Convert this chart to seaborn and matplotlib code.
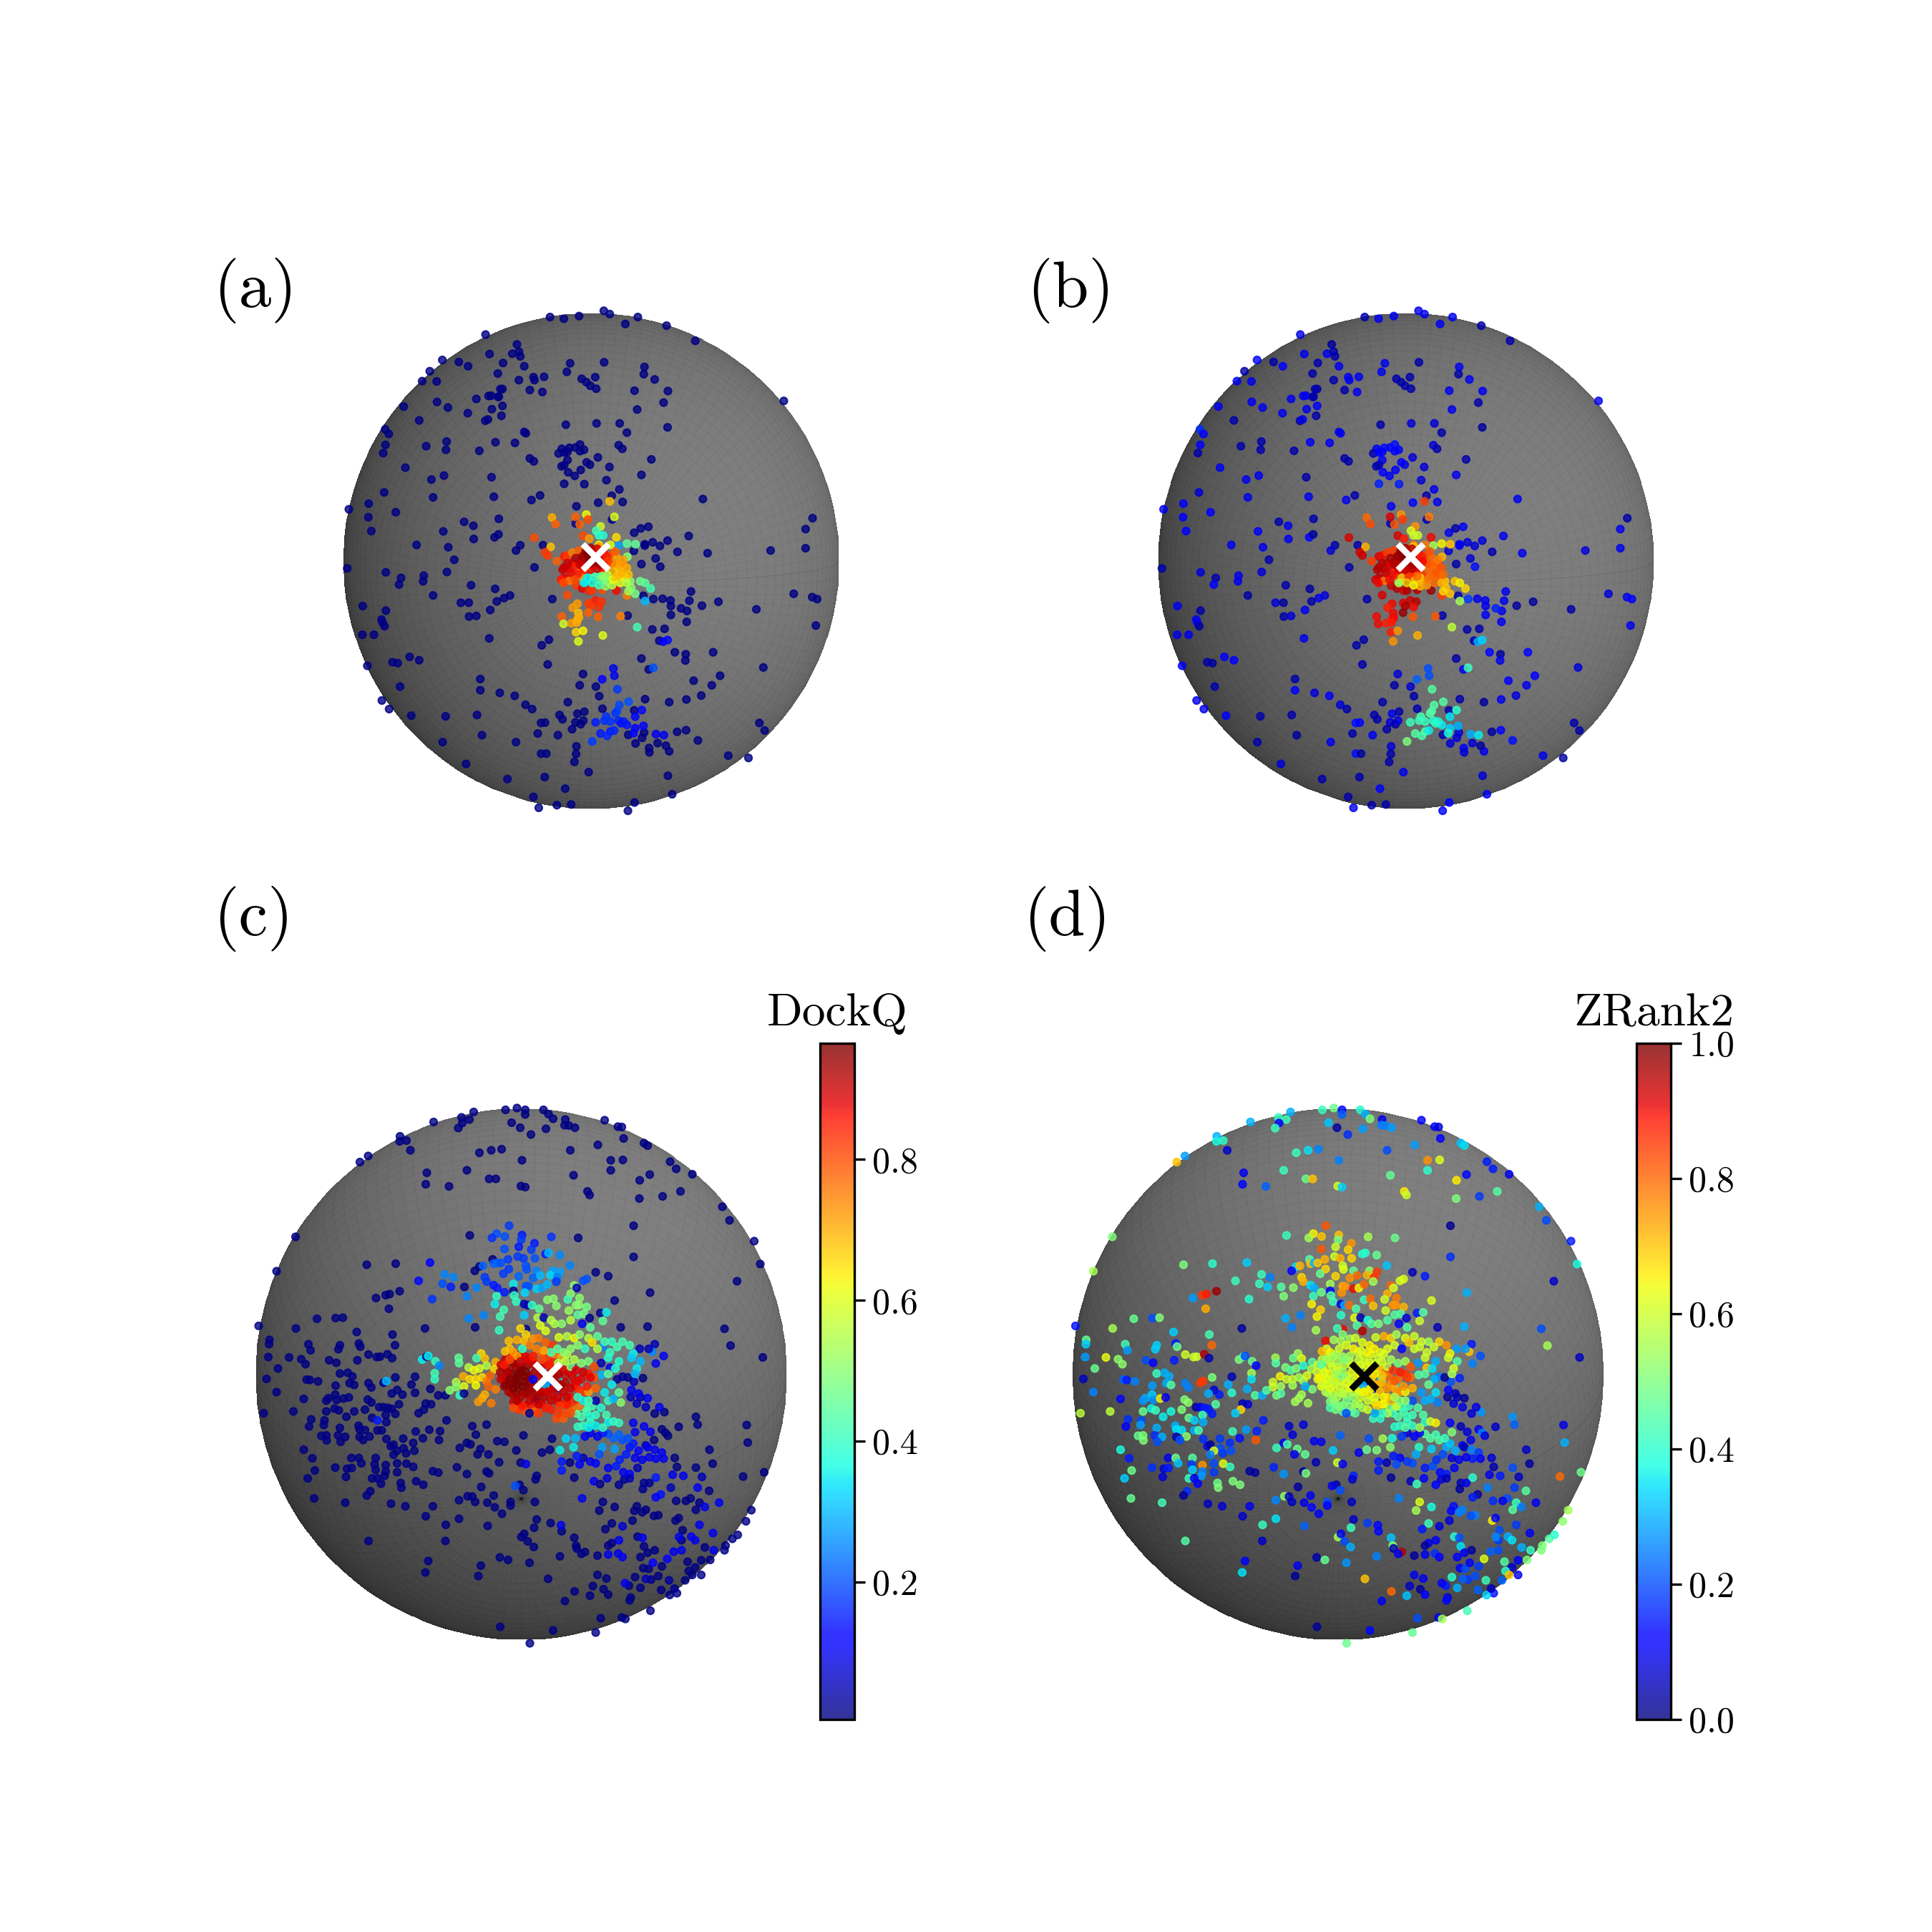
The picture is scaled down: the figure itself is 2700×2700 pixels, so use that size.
import numpy as np
import pandas as pd
import matplotlib
matplotlib.use("Agg")
import matplotlib.pyplot as plt
from matplotlib.cm import ScalarMappable
from matplotlib.colors import Normalize
import seaborn as sns

sns.set_style("white")
plt.rcParams["font.family"] = ["cmr10"]
plt.rcParams["axes.formatter.use_mathtext"] = True
plt.rcParams["text.color"] = "black"
plt.rcParams["axes.labelcolor"] = "black"
plt.rcParams["axes.edgecolor"] = "black"
plt.rcParams["xtick.color"] = "black"
plt.rcParams["ytick.color"] = "black"

# ------------------------------------------
# DATA: positions, in units of a 1560 wide crop
# (x, y, b value) for panels a and b, panel a is navy here
# ------------------------------------------
a_sparse_value = 0.01

ab_sparse = [
    (647,50,.04),(689,55,.1),(735,47,.1),(810,31,.1),(828,41,.1),(913,50,.1),(875,71,.1),(1000,76,.04),(1087,122,.04),
    (452,103,.09),(1355,304,.1),(321,180,.13),(283,214,.04),(260,244,.1),(304,245,.1),(371,186,.04),(399,199,.12),
    (464,162,.1),(505,189,.04),(547,133,.03),(533,161,.1),(553,155,.04),(557,169,.04),(569,199,.1),(489,221,.04),
    (708,190,.1),(811,187,.04),(698,216,.1),(933,201,.1),(931,223,.04),(964,239,.1),(1004,274,.1),(991,309,.04),
    (903,273,.1),(911,330,.1),(553,241,.04),(597,232,.1),(600,241,.1),(629,231,.1),(743,237,.04),(757,247,.04),
    (769,258,.04),(787,267,.04),(784,232,.04),(586,271,.04),(624,277,.1),(497,268,.04),(503,268,.04),(461,289,.1),
    (469,288,.1),(490,292,.04),(492,291,.04),(424,298,.1),(305,307,.1),(204,321,.1),(338,324,.1),(503,319,.12),
    (471,329,.1),(398,341,.1),(500,349,.04),(451,364,.04),(459,360,.1),(251,363,.04),(148,390,.17),(159,404,.12),
    (149,437,.12),(142,462,.04),(272,441,.04),(334,427,.04),(332,452,.04),(433,455,.04),(482,429,.1),(541,431,.1),
    (569,398,.1),(574,402,.1),(695,376,.04),(788,372,.08),(858,372,.08),(880,400,.04),(1003,384,.03),
    (683,449,.1),(673,463,.04),(690,460,.12),(706,446,.14),(724,445,.12),(738,436,.14),(738,456,.12),(750,452,.12),
    (700,458,.12),(700,483,.12),(690,498,.04),(682,502,.04),(702,520,.12),(722,531,.1),(740,513,.12),(758,490,.12),
    (768,497,.1),(690,555,.16),(751,556,.15),(586,478,.04),(598,487,.04),(792,475,.08),(827,504,.08),(855,438,.08),
    (866,449,.04),(954,481,.04),(924,528,.1),(818,544,.08),
    (209,506,.1),(288,542,.1),(326,530,.1),(470,535,.04),(145,581,.08),(293,596,.1),(477,594,.1),(591,604,.1),
    (617,590,.04),(857,572,.1),(834,591,.04),(793,612,.12),(867,610,.1),(727,623,.1),(1110,601,.1),(98,615,.12),
    (97,656,.12),(180,641,.12),(38,632,.1),(106,698,.12),(387,670,.04),(415,682,.1),(492,661,.04),(324,699,.12),
    (416,722,.1),(479,717,.12),(491,708,.03),(243,740,.1),(339,747,.1),(357,785,.04),(557,741,.04),(544,757,.08),
    (626,741,.04),(33,811,.04),(150,823,.08),(335,822,.08),(600,808,.04),(196,840,.04),(265,833,.1),(263,850,.1),
    (190,860,.12),(408,862,.04),(293,893,.04),(481,873,.03),(377,915,.08),(401,915,.03),(526,893,.08),(508,901,.1),
    (486,911,.04),(466,937,.1),(80,925,.1),(150,939,.04),(137,966,.1),(140,975,.1),(146,986,.03),(402,957,.04),
    (424,955,.08),(654,904,.04),(79,1012,.1),(114,1012,.1),(463,1023,.1),(222,1079,.12),(170,1095,.04),(186,1098,.03),
    (251,1089,.12),(94,1106,.12),(193,1169,.04),(138,1211,.09),(160,1237,.09),(436,1146,.04),(436,1180,.12),
    (495,1188,.08),(540,1197,.12),(573,1224,.08),(593,1237,.04),(227,1257,.12),(331,1259,.04),(426,1255,.04),
    (622,1044,.04),(644,1027,.04),(640,1102,.04),(747,1131,.08),(737,1165,.04),(786,1169,.08),(796,1198,.04),
    (701,1216,.04),(806,1236,.04),(676,1255,.04),(685,1268,.04),(730,1251,.1),(751,1245,.04),(724,1277,.08),
    (740,1283,.04),(748,1272,.08),(620,1279,.14),(632,1278,.12),(714,1298,.04),(610,1311,.04),(671,1316,.1),
    (322,1337,.04),(441,1316,.03),(544,1337,.1),(727,1350,.08),(726,1373,.04),(620,1372,.14),(636,1372,.03),
    (721,1397,.04),(393,1403,.08),(764,1428,.1),(631,1443,.04),(518,1449,.04),(693,1478,.12),(597,1503,.04),
    (613,1536,.1),(668,1528,.04),(711,1526,.04),(883,1545,.12),(903,1520,.12),(1017,1495,.1),(1004,1439,.08),
    (1187,1378,.1),(1248,1385,.03),(1281,1279,.04),(1297,1302,.04),(1095,1332,.14),(1059,1301,.12),(1032,1306,.03),
    (1008,1365,.1),(998,1348,.03),(973,1340,.08),(947,1355,.12),(948,1368,.08),(906,1341,.08),(926,1324,.08),
    (932,1308,.08),(884,1315,.04),(1060,1208,.1),(1008,1216,.03),(1105,1196,.08),(1137,1165,.1),(1082,1151,.12),
    (1162,1136,.12),(1293,1111,.08),(1141,1065,.13),(1058,1071,.03),(1057,1090,.1),(1025,1065,.13),(924,1084,.04),
    (946,1117,.1),(935,1207,.04),(902,1241,.04),(1061,973,.1),(994,994,.04),(957,996,.04),(978,1030,.04),(1013,952,.12),
    (1062,940,.1),(1044,932,.16),(1107,924,.03),(1157,912,.03),(1069,909,.1),(1074,881,.1),(1013,925,.1),(1012,908,.1),
    (988,903,.1),(960,904,.18),(930,894,.04),(882,954,.04),(1272,935,.04),(1385,888,.08),(1441,898,.1),(1456,904,.12),
    (1452,984,.1),(1315,757,.08),(1421,750,.1),(1421,692,.1),(1442,659,.04),(1124,765,.1),(1067,713,.1),(1033,761,.04),
    (1003,727,.08),(980,743,.08),(958,732,.08),(934,738,.1),(934,742,.1),(945,685,.12),(922,690,.04),(902,703,.1),
    (901,758,.08),(967,781,.08),(981,806,.14),(924,798,.04),
]

# (x, y, a value, b value)
ab_cluster = [
    (835,663,.02,.05),(725,675,.02,.04),(842,655,.6,.78),(828,608,.68,.85),(653,657,.7,.8),(664,677,.78,.83),
    (724,655,.78,.92),(757,648,.62,.75),(762,663,.8,.85),(737,678,.78,.82),(800,684,.58,.75),(787,697,.42,.62),
    (795,711,.4,.6),(808,711,.38,.6),(848,717,.65,.9),(747,712,.8,.92),(766,721,.72,.88),(599,718,.8,.92),(649,746,.68,.72),
    (880,736,.45,.65),(906,738,.45,.7),(855,742,.28,.55),(881,776,.5,.72),(795,740,.62,.78),(830,740,.6,.78),
    (990,1033,.12,.3),(1003,1028,.13,.33),(960,1112,.2,.42),(839,1114,.1,.2),(842,1136,.1,.2),(805,1147,.11,.22),
    (851,1177,.18,.45),(885,1215,.2,.45),(857,1225,.19,.45),(850,1243,.19,.44),(845,1250,.18,.45),(817,1260,.17,.43),
    (812,1272,.17,.42),(830,1275,.17,.42),(785,1277,.15,.42),(855,1272,.16,.4),(870,1275,.15,.38),(880,1285,.14,.36),
    (862,1280,.14,.4),(905,1260,.13,.35),(925,1240,.13,.4),(830,1305,.15,.45),(841,1302,.16,.36),(800,1311,.15,.45),
    (820,1318,.16,.44),(775,1335,.18,.5),(905,1295,.12,.33),(930,1288,.12,.3),(900,1310,.11,.38),(968,1313,.1,.3),(992,1316,.1,.36),
    (700,892,.8,.92),(730,918,.72,.9),(716,930,.72,.88),(764,916,.82,.92),(785,908,.85,.93),(803,912,.83,.95),(795,928,.83,.9),
    (770,925,.82,.96),(763,945,.78,.98),(733,946,.68,.9),(683,957,.78,.9),(793,958,.78,.82),(861,956,.75,.82),(730,965,.7,.88),
    (735,960,.7,.9),(688,979,.58,.9),(712,977,.72,.88),(728,975,.7,.88),(911,989,.42,.58),(726,1004,.66,.88),(747,1000,.63,.75),
    (733,1032,.6,.75),(807,1014,.6,.72),
    (890,850,.5,.7),(893,870,.5,.7),(920,850,.47,.7),(935,855,.45,.65),(952,872,.42,.68),(905,888,.47,.7),(880,893,.75,.85),
    (885,880,.52,.68),(935,910,.3,.55),
    (690,775,.85,.92),(700,772,.82,.9),(715,763,.75,.85),(735,757,.78,.85),(640,772,.82,.93),(632,762,.82,.93),(668,789,.78,.85),
    (690,808,.9,.95),(685,815,.9,.95),(705,812,.9,.95),(715,795,.88,.93),(725,805,.85,.92),(700,795,.9,.95),
    (690,840,.88,.95),(680,845,.85,.92),(695,850,.85,.93),(707,848,.75,.78),(688,855,.8,.9),
    (727,863,.82,.93),(745,872,.88,.95),(765,878,.84,.92),(775,878,.82,.96),(806,876,.8,.95),(848,878,.87,.97),(755,850,.3,.55),
    (745,838,.7,.85),(760,840,.35,.7),(780,835,.4,.85),(800,845,.45,.7),(820,850,.45,.72),(815,865,.5,.72),(835,862,.55,.75),
    (860,855,.6,.8),(875,840,.62,.8),(870,800,.75,.85),(880,810,.7,.82),(860,830,.65,.8),(845,800,.68,.85),(855,815,.65,.8),
    (835,820,.7,.8),(820,830,.55,.85),(800,825,.5,.85),(775,820,.45,.85),(760,810,.6,.9),(740,820,.78,.85),(835,770,.8,.85),
    (850,780,.7,.8),(845,760,.78,.82),(740,790,.9,.97),(750,775,.93,.98),(765,785,.95,.99),(775,770,.96,.99),(790,790,.94,.97),
    (800,775,.92,.95),(815,790,.88,.9),(780,805,.92,.95),(760,800,.93,.96),(745,805,.9,.95),(805,810,.85,.9),(725,780,.92,.96),
    (760,760,.92,.96),(785,760,.9,.93),(810,765,.85,.9),(795,745,.72,.7),
]

ab_fill = [
    (730,830,.85,.9),(710,825,.87,.93),(722,845,.8,.9),(750,855,.35,.55),(775,855,.38,.7),(795,862,.42,.65),(815,840,.5,.7),
    (838,845,.62,.78),(850,835,.68,.8),(865,825,.7,.82),(885,830,.68,.8),(880,855,.55,.72),(855,800,.72,.8),(868,785,.72,.78),
    (835,795,.75,.82),(805,835,.5,.8),(785,825,.42,.85),(745,775,.93,.97),(755,760,.95,.98),(770,750,.93,.96),(790,752,.9,.95),
    (805,760,.88,.92),(818,775,.85,.88),(822,790,.82,.9),(810,805,.88,.92),(790,812,.9,.95),(770,815,.88,.93),(750,815,.85,.92),
    (738,800,.9,.95),(762,770,.97,.99),(780,780,.97,.99),(770,795,.96,.98),(795,795,.95,.97),
]

# (x, y, d value) for panels c and d, panel c is navy here
c_sparse_value = 0.01

cd_top = [
    (624,28,.3),(713,22,.42),(745,17,.48),(768,22,.13),(768,35,.22),(819,22,.4),(833,34,.3),(846,47,.5),(880,49,.1),(878,65,.25),
    (890,66,.25),(907,72,.28),(990,51,.12),(1027,69,.12),(1038,70,.08),(1043,102,.12),(512,56,.3),(590,43,.42),(612,49,.42),
    (592,59,.13),(581,73,.42),(730,58,.32),(754,72,.03),(826,75,.28),(784,91,.17),(418,96,.3),(417,110,.38),(436,108,.4),
    (447,135,.07),(329,151,.28),(306,168,.7),(126,377,.5),(73,473,.55),(640,142,.42),(673,135,.35),(702,132,.25),(759,163,.25),
    (605,191,.42),(493,198,.1),(490,230,.12),(555,236,.22),(667,215,.48),(686,215,.7),(756,235,.6),(768,238,.33),(894,135,.2),
    (971,120,.28),(1007,163,.75),(1041,162,.62),(1007,191,.4),(903,205,.47),(1100,115,.32),(1110,122,.35),(1173,167,.15),
    (1190,187,.15),(1235,202,.1),(1116,203,.13),(1088,219,.66),(1202,250,.45),(1152,264,.18),(1087,270,.5),(942,250,.66),
    (948,260,.6),(1319,293,.3),(1339,331,.2),(1071,346,.02),(1408,389,.15),(1425,453,.38),(1071,433,.17),(1360,501,.07),(916,380,.48),
]

cd_left = [
    (325,455,.5),(406,452,.4),(351,548,.28),(378,540,.85),(389,537,.88),(417,529,.97),(387,578,.73),(186,606,.47),(238,604,.2),
    (258,603,.5),(127,633,.55),(23,626,.14),(297,643,.33),(397,650,.43),(488,633,.03),(53,665,.47),(52,677,.33),(162,677,.43),
    (168,694,.28),(250,680,.33),(246,691,.33),(303,675,.15),(307,684,.48),(404,680,.8),(330,706,.6),(353,713,.6),(362,712,.6),
    (383,705,.95),(396,716,.05),(50,713,.28),(108,714,.63),(142,719,.52),(154,733,.52),(220,722,.2),(240,729,.12),(299,722,.15),
    (77,745,.48),(45,774,.06),(157,776,.22),(166,777,.15),(189,781,.25),(250,759,.42),(272,757,.3),(285,767,.3),(277,786,.3),
    (290,791,.45),(330,786,.25),(338,798,.25),(238,793,.28),(73,811,.25),(149,830,.13),(237,818,.33),(218,828,.3),(212,835,.27),
    (241,833,.27),(260,829,.65),(275,826,.1),(328,832,.5),(338,840,.52),(360,853,.03),(372,853,.1),(385,855,.15),(395,858,.15),
    (37,870,.58),(120,865,.58),(212,865,.48),(235,857,.37),(247,862,.42),(268,880,.36),(290,865,.38),(320,860,.5),(340,883,.48),
    (378,875,.42),(170,887,.17),(207,890,.2),(205,903,.28),(164,907,.12),(380,895,.3),(250,911,.3),(302,905,.3),(305,915,.35),
    (320,917,.35),(355,918,.3),(367,918,.43),(198,933,.47),(212,932,.5),(213,946,.5),(245,932,.17),(265,936,.3),(252,950,.2),
    (305,936,.05),(333,935,.52),(315,945,.2),(380,942,.17),(427,941,.18),(392,962,.1),(400,958,.03),(428,968,.2),(455,953,.17),
    (482,940,.14),(149,972,.38),(173,996,.15),(282,995,.1),(303,995,.48),(350,995,.45),(410,975,.6),(458,975,.2),(400,986,.25),
    (435,982,.18),(310,1010,.32),(347,1013,.18),(378,1015,.75),(410,1010,.2),(436,1011,.62),(455,1020,.42),(237,1022,.17),
    (180,1030,.48),(270,1025,.08),(283,1023,.15),(350,1028,.33),(378,1033,.25),(410,1035,.18),(160,1052,.33),(267,1048,.08),
    (340,1052,.42),(375,1045,.28),(355,1052,.1),(365,1067,.12),(420,1065,.48),(422,1078,.5),(463,1060,.5),(483,1070,.5),
    (335,1088,.17),(178,1108,.47),(265,1120,.43),(393,1123,.06),(433,1130,.08),(510,1130,.1),(330,1227,.45),
    (460,768,.05),(405,770,.5),(450,790,.3),(460,813,.4),(425,818,.15),(410,805,.08),(395,815,.3),(525,820,.45),(545,820,.3),
    (503,802,.3),(505,845,.08),(490,843,.05),(485,860,.68),(470,870,.33),(415,845,.45),(405,872,.15),
]

cd_bottom = [
    (510,1032,.03),(525,1036,.03),(577,1021,.16),(605,1040,.27),(620,906,.06),(660,902,.08),(630,930,.08),(548,890,.15),
    (500,916,.28),(462,921,.42),(530,920,.16),(527,945,.82),(605,953,.1),(615,957,.44),(585,967,.42),(643,970,.48),(635,985,.1),
    (665,985,.47),(690,948,.1),(710,950,.1),(763,932,.22),(743,974,.33),(695,1007,.05),(755,1008,.6),(660,1033,.03),(667,1038,.5),
    (800,1045,.16),(797,1055,.07),(752,1070,.03),(763,1085,.2),(645,1076,.03),(583,1113,.26),(607,1102,.52),(620,1103,.05),
    (628,1118,.06),(662,1120,.09),(680,1100,.1),(683,1133,.13),(703,1151,.12),(727,1118,.2),(727,1128,.12),(795,1118,.06),
    (490,1158,.07),(583,1165,.35),(546,1182,.42),(663,1185,.22),(800,1167,.06),(839,1177,.18),(870,1200,.13),(793,1190,.42),
    (545,1227,.06),(757,1216,.55),(765,1207,.1),(775,1228,.2),(792,1244,.3),(905,1218,.32),(910,1240,.5),(912,1248,.04),
    (935,1258,.95),(925,1263,.1),(865,1270,.25),(697,1273,.04),(720,1280,.47),(780,1288,.27),(497,1283,.12),(489,1315,.35),
    (644,1296,.1),(637,1325,.02),(832,1333,.7),(906,1368,.8),(879,1395,.1),(957,1353,.07),(949,1380,.32),(698,1467,.02),
    (846,1477,.13),(781,1513,.48),(965,1483,.47),(979,1443,.2),(1038,1441,.1),(1048,1445,.55),(1118,1422,.43),
    (1387,903,.09),(1390,952,.3),(1283,972,.07),(1292,1011,.03),(1436,1035,.48),(1377,1047,.8),(1245,1022,.2),(1192,1020,.05),
    (1186,995,.08),(1282,1087,.45),(1245,1140,.45),(1255,1120,.42),(1230,1108,.2),(1217,1115,.1),(1190,1115,.17),
    (985,1118,.62),(975,1142,.55),(1018,1132,.38),(1080,1130,.14),(1073,1143,.13),(1105,1140,.25),(1095,1147,.25),(1140,1155,.25),
    (1128,1157,.2),(1188,1170,.65),(1197,1163,.12),(1068,1170,.08),(1010,1178,.42),(992,1194,.15),(1208,1197,.2),(1205,1225,.18),
    (1082,1215,.4),(1010,1233,.1),(1000,1240,.03),(1100,1242,.35),(1130,1253,.03),(1270,1245,.3),(1328,1240,.5),(1325,1253,.5),
    (1347,1221,.45),(1362,1210,.4),(1385,1172,.52),(1400,1141,.55),(970,1268,.03),(1090,1272,.12),(1110,1260,.1),(1098,1303,.12),
    (1113,1305,.2),(1150,1298,.18),(1222,1285,.45),(1260,1281,.12),(1285,1280,.5),(1243,1301,.07),(1225,1311,.4),(1260,1322,.1),
    (1235,1322,.7),(1215,1337,.22),(970,1322,.1),(995,1332,.1),(1075,1328,.4),(1120,1335,.18),(1140,1325,.2),(1058,1352,.15),
    (1090,1358,.3),(1148,1364,.22),(1192,1373,.14),(1172,1378,.33),(1063,1385,.08),(1060,1393,.13),(987,1362,.03),(1000,1377,.12),
    (1245,880,.27),(1250,902,.22),(1197,908,.07),(1150,915,.1),(1160,925,.25),(1167,933,.08),(1157,867,.27),(1130,871,.08),
    (1097,772,.16),(843,941,.2),(815,980,.1),(837,972,.47),(893,1008,.05),(905,1050,.03),
    (325,1100,.03),(1035,630,.05),(1110,628,.3),(1325,634,.2),(1342,681,.55),(1432,714,.06),(1117,533,.3),(1018,555,.62),
    (965,476,.05),(1000,487,.15),(613,373,.42),(677,440,.45),(640,460,.35),(598,517,.45),(627,472,.12),(628,630,.25),
]

# (x, y, c value, d value)
cd_blue = [
    (770,1012,.1,.1),(740,1073,.2,.1),(868,1183,.1,.13),(502,449,.12,.33),(470,500,.13,.42),(508,551,.17,.4),(355,890,.15,.33),
    (1262,1048,.05,.06),(1210,1045,.1,.15),(1180,1042,.1,.1),(1133,1050,.15,.4),(1250,1078,.1,.18),(1310,1120,.1,.1),
    (1270,1132,.1,.25),(1175,1078,.05,.25),(1147,1097,.14,.03),(1133,1105,.12,.15),(1100,1065,.02,.05),(1097,1082,.02,.03),
    (1115,1065,.02,.1),(1045,1055,.02,.08),(1030,1070,.02,.12),(960,1060,.1,.05),(977,1068,.02,.42),(927,1108,.1,.25),
    (1040,1186,.08,.08),(1255,1182,.1,.18),(1293,1205,.1,.1),(1198,1216,.1,.26),(1232,1215,.1,.3),(1243,1225,.1,.35),
    (1096,1218,.1,.2),(1030,1225,.1,.1),(1183,1257,.1,.22),(1205,1253,.1,.2),(1295,1253,.1,.42),(1000,1265,.1,.1),(1028,1262,.1,.17),
    (1040,1272,.1,.12),(1165,1277,.12,.62),(1125,1288,.12,.12),(1105,1333,.05,.22),(1170,1337,.03,.42),(1047,1345,.1,.12),
    (1185,1360,.02,.06),(1143,853,.1,.09),(1105,853,.05,.09),(1110,828,.1,.03),(1090,825,.05,.05),(1080,843,.05,.08),(1063,825,.05,.03),
    (1065,805,.1,.12),(1085,815,.1,.05),(1072,782,.05,.2),(1040,768,.03,.25),(1055,770,.02,.02),(1025,775,.02,.3),(1130,677,.05,.15),
    (1123,698,.25,.7),(1113,690,.05,.28),(1133,731,.1,.25),(1155,710,.1,.2),(1088,690,.05,.28),
    (1100,907,.1,.05),(1070,897,.1,.12),(1128,945,.01,.1),(1118,922,.1,.08),(1075,923,.1,.5),(1105,960,.05,.1),(1110,965,.1,.05),
    (1130,972,.1,.25),(1150,980,.1,.18),(1155,997,.1,.12),(1133,997,.1,.15),(1115,993,.1,.1),(1095,1000,.1,.1),(1075,995,.1,.08),
    (1085,975,.12,.3),(1060,965,.14,.3),(1070,955,.15,.32),(1040,945,.2,.45),(1055,940,.2,.42),(1015,940,.22,.45),(1030,930,.22,.43),
    (1000,928,.2,.45),(985,925,.15,.1),(970,935,.1,.12),(950,925,.1,.08),(935,935,.12,.18),(1018,970,.28,.33),(983,965,.28,.4),
    (975,985,.2,.3),(965,1010,.12,.2),(950,1005,.1,.18),(930,995,.05,.12),(912,990,.15,.15),(870,1005,.15,.15),(920,1013,.12,.2),
    (870,1030,.15,.15),(1000,1023,.1,.15),(1022,1018,.15,.2),(1050,985,.15,.2),(1032,1000,.15,.17),(1042,1035,.1,.13),(1060,1040,.12,.15),
    (1082,1023,.05,.1),(997,1052,.08,.12),(1060,1052,.05,.05),(865,973,.35,.5),(882,941,.33,.55),(908,940,.3,.38),(903,965,.35,.52),
]

cd_upper = [
    (723,346,.18,.82),(688,368,.2,.65),(675,380,.17,.55),(711,376,.2,.7),(759,372,.15,.7),(757,385,.18,.5),(841,377,.17,.55),
    (794,395,.15,.75),(785,413,.18,.68),(750,405,.15,.6),(710,411,.2,.82),(825,425,.15,.4),(833,422,.3,.4),(865,428,.25,.47),
    (893,457,.25,.32),(720,440,.18,.72),(747,432,.18,.6),(763,437,.18,.72),(795,437,.2,.68),(650,458,.22,.72),(680,452,.22,.7),
    (690,450,.22,.3),(700,450,.2,.7),(722,467,.18,.68),(770,458,.2,.6),(772,468,.2,.62),(707,480,.18,.48),(800,472,.25,.47),
    (845,472,.28,.52),(865,475,.28,.85),(543,482,.25,.42),(567,490,.25,.25),(750,487,.22,.68),(790,492,.22,.75),(810,485,.3,.8),
    (838,484,.33,.72),(858,490,.25,.85),(655,490,.18,.68),(660,502,.18,.72),(940,495,.2,.62),(930,500,.2,.62),(537,508,.2,.42),
    (560,517,.15,.33),(632,519,.25,.52),(680,512,.15,.35),(690,520,.15,.3),(735,509,.35,.55),(770,515,.2,.72),(777,515,.2,.75),
    (800,522,.32,.9),(815,520,.28,.65),(830,510,.3,.8),(855,502,.18,.55),(905,513,.5,.8),(912,520,.05,.6),(710,532,.15,.48),
    (735,528,.02,.12),(767,533,.33,.75),(688,543,.4,.42),(605,543,.25,.5),(737,541,.4,.45),(743,558,.4,.42),(830,553,.5,.42),
    (847,550,.5,.8),(855,570,.5,.7),(895,536,.5,.72),(887,552,.42,.6),(920,548,.5,.78),(683,565,.35,.65),(765,565,.05,.1),
    (775,568,.05,.3),(787,568,.4,.8),(910,568,.5,.75),(918,568,.5,.75),(940,573,.48,.72),(807,578,.45,.45),(708,581,.42,.68),
    (698,600,.42,.65),(765,596,.32,.4),(652,596,.25,.25),(610,605,.25,.3),(803,603,.55,.62),(820,603,.05,.05),(840,610,.55,.38),
    (890,583,.52,.6),(915,595,.45,.45),(932,592,.48,.45),(978,590,.02,.15),(995,588,.35,.45),(948,604,.02,.08),(985,612,.45,.6),
    (927,620,.1,.12),(695,638,.4,.55),(770,635,.02,.9),(810,625,.6,.45),(825,640,.6,.95),(850,620,.55,.45),(870,620,.5,.5),
    (895,610,.55,.45),(950,630,.45,.45),
    (985,685,.25,.6),(1010,670,.4,.55),(1040,670,.42,.68),(1060,680,.42,.75),(1070,703,.35,.65),(1065,715,.32,.6),(1025,685,.42,.6),
    (1005,700,.4,.6),(1000,715,.38,.6),(1030,725,.38,.3),(1005,743,.1,.7),(1020,745,.38,.35),(1090,725,.3,.45),(1080,745,.35,.62),
    (1075,760,.3,.55),(980,730,.05,.28),(982,763,.3,.45),(1000,760,.45,.45),(1010,790,.35,.47),(990,670,.42,.6),(970,655,.45,.6),
    (1000,895,.35,.4),(1015,893,.4,.6),(1030,897,.4,.65),(985,910,.4,.55),(950,895,.4,.42),(930,905,.4,.42),(915,908,.4,.4),
    (945,910,.35,.45),(965,905,.35,.42),(925,880,.42,.45),(910,870,.45,.42),(940,865,.42,.45),(955,850,.42,.42),(980,855,.38,.45),
    (995,875,.42,.45),(965,875,.4,.43),(935,855,.42,.42),(915,855,.45,.45),(950,880,.38,.42),(1030,812,.45,.35),(1035,840,.5,.25),
    (990,812,.35,.28),(1000,835,.4,.3),(1015,830,.3,.3),(965,835,.05,.2),
]

cd_wing = [
    (480,720,.35,.5),(492,712,.02,.45),(497,710,.35,.2),(517,725,.4,.48),(528,737,.25,.12),(515,758,.42,.55),(515,775,.4,.35),
    (372,785,.02,.85),(380,780,.3,.85),(582,715,.45,.55),(583,730,.45,.45),(645,703,.65,.55),(632,716,.42,.48),(655,717,.68,.62),
    (685,727,.7,.45),(610,742,.55,.5),(625,750,.62,.45),(640,745,.6,.5),(660,737,.55,.4),(682,747,.65,.55),(595,767,.7,.65),
    (575,783,.55,.6),(613,775,.65,.6),(630,775,.65,.6),(648,770,.65,.55),(575,797,.5,.6),(597,795,.6,.55),(557,806,.5,.45),
    (630,792,.62,.55),(660,780,.75,.55),(670,765,.78,.62),(685,803,.75,.5),(585,820,.4,.5),(597,815,.02,.45),(655,818,.7,.55),
    (648,828,.7,.55),(637,838,.72,.55),(673,842,.75,.55),(665,795,.78,.3),
]

cd_core_fill = [
    (815,745,.3,.3),(845,790,.25,.3),(880,775,.35,.4),(900,745,.08,.12),(860,800,.02,.1),(795,835,.03,.25),(900,840,.02,.15),(925,785,.32,.35),
    (700,735,.9,.6),(712,720,.9,.58),(730,708,.9,.55),(752,705,.9,.55),(770,712,.88,.55),(790,725,.85,.55),
    (698,755,.93,.6),(715,745,.93,.62),(735,730,.95,.6),(755,742,.96,.62),(775,735,.93,.58),(795,735,.9,.6),
    (700,775,.9,.62),(715,770,.96,.63),(732,760,.97,.64),(745,772,.97,.65),(757,752,.98,.6),(770,755,.99,.55),(780,768,.98,.58),
    (710,795,.94,.62),(725,790,.96,.64),(745,792,.97,.6),(765,782,.97,.62),(780,800,.96,.6),(795,790,.95,.62),
    (722,810,.93,.58),(742,815,.95,.58),(760,812,.95,.6),(778,818,.93,.55),(800,812,.92,.58),
    (735,838,.9,.5),(750,845,.88,.48),(770,848,.88,.5),(790,850,.85,.5),(815,845,.88,.55),(770,865,.8,.45),(795,865,.78,.5),(750,860,.82,.5),(735,855,.8,.45),
    (812,700,.78,.6),(830,712,.82,.6),(850,705,.75,.62),(870,715,.7,.6),(885,705,.55,.6),(820,735,.88,.62),(845,728,.85,.62),(875,745,.88,.68),
    (812,770,.9,.65),(840,755,.9,.66),(855,745,.85,.7),(835,800,.92,.68),(815,805,.92,.62),(860,790,.9,.7),(880,785,.92,.72),(900,770,.9,.8),(890,755,.88,.78),
    (905,790,.88,.75),(925,775,.88,.8),(875,810,.9,.7),(895,825,.86,.68),(915,800,.85,.72),(930,810,.82,.75),(880,845,.85,.65),(900,855,.78,.5),(920,850,.78,.6),
    (875,885,.78,.4),(855,885,.8,.42),(895,870,.8,.55),(825,855,.85,.55),(840,860,.85,.6),(845,820,.9,.65),(860,840,.88,.65),(820,810,.9,.62),
    (960,770,.8,.8),(945,760,.85,.85),(945,810,.72,.65),(965,800,.78,.72),
]

cd_core = [
    (755,633,.65,.42),(722,668,.68,.9),(770,650,.65,.5),(745,665,.7,.55),(765,668,.68,.55),(725,690,.68,.62),(712,697,.68,.7),
    (735,700,.72,.65),(790,662,.72,.55),(805,660,.75,.6),(825,672,.78,.62),(845,680,.82,.65),(862,658,.6,.6),(885,655,.55,.72),
    (905,660,.62,.68),(920,650,.5,.55),(945,660,.55,.62),(955,672,.65,.7),(970,690,.55,.6),(915,680,.5,.6),(935,690,.4,.12),
    (895,690,.5,.62),(875,700,.5,.62),(858,690,.45,.65),(840,700,.42,.65),(820,695,.7,.62),(800,690,.75,.65),(780,680,.75,.62),
    (760,690,.4,.6),(745,710,.72,.55),(725,720,.8,.55),(710,735,.85,.45),(905,720,.55,.55),(925,730,.5,.5),(945,725,.48,.55),
    (960,740,.8,.82),(950,770,.88,.85),(930,755,.9,.88),(915,780,.88,.82),(940,795,.85,.75),(920,815,.82,.75),(895,800,.9,.75),
    (905,835,.82,.7),(885,845,.85,.65),(865,850,.82,.68),(880,870,.8,.42),(860,870,.82,.3),(930,835,.35,.5),(915,825,.38,.55),
    (945,835,.42,.52),(885,825,.9,.65),(860,825,.9,.62),(840,835,.9,.6),(820,825,.92,.6),(805,845,.9,.55),(805,870,.82,.45),
    (780,870,.02,.2),(760,850,.85,.5),(745,835,.92,.52),(730,815,.92,.55),(715,790,.95,.6),(705,770,.9,.65),(720,755,.92,.62),
    (740,740,.93,.6),(755,725,.9,.55),(775,720,.88,.5),(790,710,.85,.55),(815,720,.8,.6),(835,735,.85,.62),(860,730,.55,.6),
    (880,725,.55,.6),(895,740,.5,.6),(910,750,.88,.85),(880,765,.9,.7),(860,760,.92,.65),(870,790,.92,.72),(850,800,.9,.65),
    (835,780,.1,.1),(825,790,.3,.3),(740,780,.97,.58),(750,760,.97,.55),(768,768,.99,.5),(780,785,.95,.62),(760,795,.97,.6),
    (735,800,.96,.62),(770,815,.93,.58),(790,800,.93,.62),(795,755,.92,.62),(810,745,.9,.65),(820,760,.92,.65),(830,810,.9,.65),
    (850,770,.92,.68),(800,825,.92,.55),(780,835,.9,.5),(755,825,.92,.55),(725,775,.95,.62),(790,775,.12,.6),
]

dockq_ticks = [0.2, 0.4, 0.6, 0.8]
zrank_ticks = [0.0, 0.2, 0.4, 0.6, 0.8, 1.0]
dockq_range = (0.005, 0.965)
zrank_range = (0.0, 1.0)
panel_names = ["(a)", "(b)", "(c)", "(d)"]

# ------------------------------------------
# TABLES FOR EACH PANEL
# ------------------------------------------
ab_rows = [(x, y, a_sparse_value, b) for x, y, b in ab_sparse] + ab_cluster + ab_fill
cd_rows = [(x, y, c_sparse_value, d) for x, y, d in cd_top + cd_left + cd_bottom]
cd_rows = cd_rows + cd_blue + cd_upper + cd_wing + cd_core_fill + cd_core
ab = pd.DataFrame(ab_rows, columns=["x", "y", "first", "second"])
cd = pd.DataFrame(cd_rows, columns=["x", "y", "first", "second"])
jet = plt.get_cmap("jet")


def px(v):
    return v / 2700


def draw_sphere(ax, cx, cy, r, tilt, light):
    # gray ball seen from the front, mesh lines like a 3d surface
    lon = np.linspace(0, 2 * np.pi, 121)
    lat = np.linspace(0, np.pi, 61)
    lon, lat = np.meshgrid(lon, lat)
    x0 = np.sin(lat) * np.cos(lon)
    y0 = np.sin(lat) * np.sin(lon)
    z0 = np.cos(lat)
    t = np.radians(tilt)
    # pole is tilted down towards the bottom of the picture
    nx = x0
    ny = -np.cos(t) * z0 + np.sin(t) * y0
    nz = np.sin(t) * z0 + np.cos(t) * y0
    sx = cx + r * nx
    sy = cy - r * ny
    cell = np.ma.masked_less((nz[:-1, :-1] + nz[1:, 1:]) / 2, 0)
    shade = 0.325 + 0.175 * (light[0] * nx + light[1] * ny + light[2] * nz)
    shade = (shade[:-1, :-1] + shade[1:, 1:]) / 2
    ax.pcolormesh(sx, sy, np.ma.array(shade, mask=cell.mask), cmap="gray", vmin=0, vmax=1, zorder=1,
                  rasterized=True, antialiased=False)
    hidden = nz < 0
    lx = np.where(hidden, np.nan, sx)
    ly = np.where(hidden, np.nan, sy)
    ax.plot(lx, ly, color="black", alpha=0.05, lw=0.25, zorder=1.5)
    ax.plot(lx.T, ly.T, color="black", alpha=0.05, lw=0.25, zorder=1.5)


def draw_panel(box, table, column, value_range, center, radius, tilt, light, cross, cross_color):
    x0, y0, size = box
    ax = fig.add_axes([px(x0), 1 - px(y0 + size), px(size), px(size)])
    draw_sphere(ax, center[0], center[1], radius, tilt, light)
    sns.scatterplot(data=table, x="x", y="y", hue=column, palette=jet, hue_norm=value_range, legend=False,
                    s=6, alpha=0.8, edgecolor="face", linewidth=0.5, ax=ax, zorder=3)
    sns.scatterplot(x=[cross[0]], y=[cross[1]], marker="x", color=cross_color, s=75, linewidth=2.1, ax=ax, zorder=4)
    ax.set_xlim(0, 1560)
    ax.set_ylim(1560, 0)
    ax.axis("off")
    return ax


def draw_colorbar(box, title, value_range, ticks):
    x0, y0, w, h = box
    cax = fig.add_axes([px(x0), 1 - px(y0 + h), px(w), px(h)])
    sm = ScalarMappable(norm=Normalize(*value_range), cmap=jet)
    bar = fig.colorbar(sm, cax=cax, ticks=ticks, alpha=0.8)
    bar.ax.set_yticklabels([f"{t:.1f}" for t in ticks], fontsize=12)
    bar.ax.tick_params(length=3.5, width=0.8, pad=2.6, left=False, right=True)
    bar.ax.set_title(title, fontsize=15.7, pad=6)


# ------------------------------------------
# FIGURE
# ------------------------------------------
fig = plt.figure(figsize=(9, 9), dpi=300)

draw_panel((470, 420, 720), ab, "first", dockq_range, (772, 789), 750, 85, (0.5, 0.2, 0.83), (785, 776), "white")
draw_panel((1608.6, 420, 720), ab, "second", zrank_range, (772, 789), 750, 85, (0.5, 0.2, 0.83), (785, 776), "white")
draw_panel((350, 1540, 780), cd, "first", dockq_range, (757, 761), 741.5, 62, (0.4, 0.65, 0.65), (829, 766), "white")
draw_panel((1491.5, 1540, 780), cd, "second", zrank_range, (757, 761), 741.5, 62, (0.4, 0.65, 0.65), (829, 766), "black")

draw_colorbar((1146, 1458, 48, 945), "DockQ", dockq_range, dockq_ticks)
draw_colorbar((2287, 1458, 48, 945), "ZRank2", zrank_range, zrank_ticks)

fig.text(px(298), 1 - px(406), panel_names[0], fontsize=22, va="center")
fig.text(px(1435), 1 - px(406), panel_names[1], fontsize=22, va="center")
fig.text(px(298), 1 - px(1284), panel_names[2], fontsize=22, va="center")
fig.text(px(1430), 1 - px(1284), panel_names[3], fontsize=22, va="center")

fig.savefig("out.png", dpi=300)
